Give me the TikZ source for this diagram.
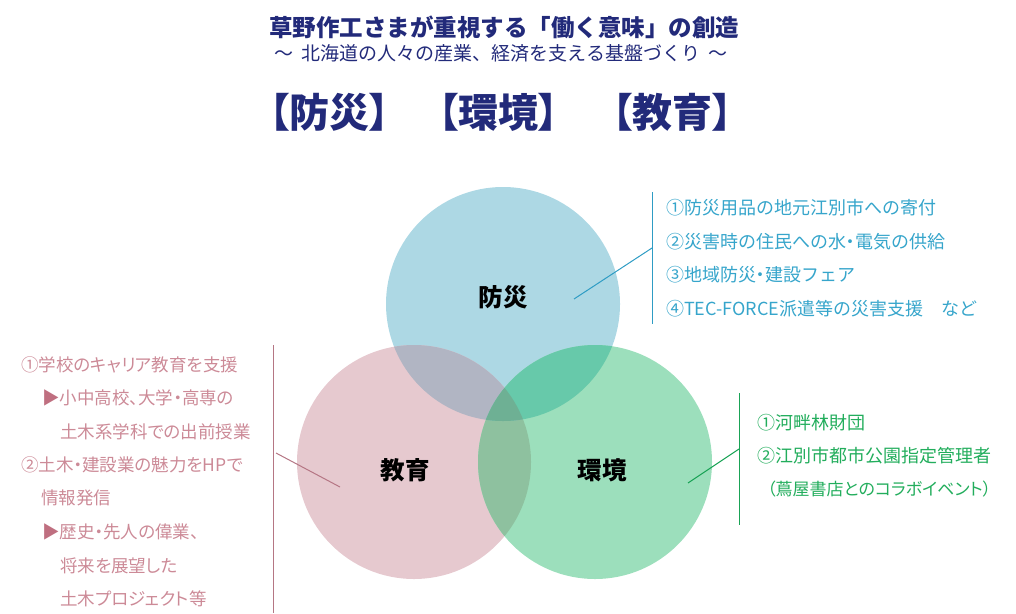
\documentclass[tikz,border=0pt]{standalone}
\usepackage{fontspec}
\setmainfont{Noto Sans CJK JP}
\newfontfamily\jp{Noto Sans CJK JP}
\newfontfamily\jpp{Noto Sans CJK JP}[RawFeature=+palt]
\definecolor{navy}{HTML}{222A7A}
\definecolor{cb}{HTML}{ADD8E4}
\definecolor{cp}{HTML}{E6C9CF}
\definecolor{cg}{HTML}{9CDFBC}
\definecolor{cbp}{HTML}{B1B5C3}
\definecolor{cbg}{HTML}{67C9AA}
\definecolor{cpg}{HTML}{8EC19F}
\definecolor{cbpg}{HTML}{6EB094}
\definecolor{tblue}{HTML}{36A5CB}
\definecolor{lblue}{HTML}{2E9CC4}
\definecolor{tpink}{HTML}{CC8A97}
\definecolor{lpink}{HTML}{B57684}
\definecolor{mpink}{HTML}{BF6F80}
\definecolor{tgreen}{HTML}{22AD5C}
\definecolor{lgreen}{HTML}{1AA356}
\tikzset{
  titletext/.style={text=navy, inner sep=0pt, font=\jp\bfseries\fontsize{23.5}{27}\selectfont},
  subtext/.style={text=navy, inner sep=0pt, font=\jp\fontsize{19}{21}\selectfont},
  bigtext/.style={text=navy, inner sep=0pt, font=\jpp\bfseries\fontsize{40}{44}\selectfont},
  circlabel/.style={text=black, inner sep=0pt, font=\jp\bfseries\fontsize{24.5}{28}\selectfont},
  bluetext/.style={text=tblue, anchor=west, inner sep=0pt, font=\jp\fontsize{18}{20}\selectfont},
  pinktext/.style={text=tpink, anchor=west, inner sep=0pt, font=\jpp\fontsize{17.5}{20}\selectfont},
  greentext/.style={text=tgreen, anchor=west, inner sep=0pt, font=\jp\fontsize{18}{20}\selectfont},
  blueline/.style={draw=lblue, line width=1pt},
  pinkline/.style={draw=lpink, line width=1pt},
  greenline/.style={draw=lgreen, line width=1pt},
}
\begin{document}
\begin{tikzpicture}[x=1pt,y=-1pt]
\useasboundingbox (0,0) rectangle (1016,613);
% circle centres
\coordinate (B) at (503,304);
\coordinate (P) at (414,462);
\coordinate (G) at (595,462);
\def\R{117}
\fill[cb] (B) circle (\R);
\fill[cp] (P) circle (\R);
\fill[cg] (G) circle (\R);
\begin{scope}
  \clip (P) circle (\R);
  \fill[cpg] (G) circle (\R);
\end{scope}
\begin{scope}
  \clip (B) circle (\R);
  \fill[cbp] (P) circle (\R);
  \fill[cbg] (G) circle (\R);
  \clip (P) circle (\R);
  \fill[cbpg] (G) circle (\R);
\end{scope}
% titles
\node[titletext] (title) at (504,27) {草野作工さまが重視する「働く意味」の創造};
\node[subtext] (sub) at (501,53) {〜\hspace{0.45em}北海道の人々の産業、経済を支える基盤づくり\hspace{0.45em}〜};
\node[bigtext] (k1) at (329,112) {【防災】};
\node[bigtext] (k2) at (498,112) {【環境】};
\node[bigtext] (k3) at (672,112) {【教育】};
% circle labels
\node[circlabel] (lb) at (503,297) {防災};
\node[circlabel] (lp) at (405,470) {教育};
\node[circlabel] (lg) at (602,470) {環境};
% blue callout
\coordinate (b1) at (574,299);
\coordinate (b2) at (652,248);
\coordinate (bt) at (652,192);
\coordinate (bb) at (652,324);
\draw[blueline] (bt) -- (bb);
\draw[blueline] (b1) -- (b2);
\node[bluetext] (bl1) at (666,208) {①防災用品の地元江別市への寄付};
\node[bluetext] (bl2) at (666,242) {②災害時の住民への水{\jpp ・}電気の供給};
\node[bluetext] (bl3) at (666,275) {③地域防災{\jpp ・}建設フェア};
\node[bluetext] (bl4) at (666,309) {④TEC-FORCE派遣等の災害支援　など};
% pink callout
\coordinate (p1) at (340,487);
\coordinate (p2) at (276,453);
\coordinate (pt) at (273,345);
\coordinate (pb) at (273,613);
\draw[pinkline] (pt) -- (pb);
\draw[pinkline] (p1) -- (p2);
\node[pinktext] (pl1) at (21,365) {①学校のキャリア教育を支援};
\node[pinktext] (pl2) at (42,398) {{\color{mpink}▶}小中高校、大学・高専の};
\node[pinktext] (pl3) at (60,432) {土木系学科での出前授業};
\node[pinktext] (pl4) at (21,465) {②土木・建設業の魅力をHPで};
\node[pinktext] (pl5) at (41,498) {情報発信};
\node[pinktext] (pl6) at (42,532) {{\color{mpink}▶}歴史・先人の偉業、};
\node[pinktext] (pl7) at (60,566) {将来を展望した};
\node[pinktext] (pl8) at (60,599) {土木プロジェクト等};
% green callout
\coordinate (g1) at (688,483);
\coordinate (g2) at (739,449);
\coordinate (gt) at (739,393);
\coordinate (gb) at (739,525);
\draw[greenline] (gt) -- (gb);
\draw[greenline] (g1) -- (g2);
\node[greentext] (gl1) at (757,423) {①河畔林財団};
\node[greentext] (gl2) at (757,456) {②江別市都市公園指定管理者};
\node[greentext, font=\jpp\fontsize{17}{20}\selectfont] (gl3) at (767,489) {（蔦屋書店とのコラボイベント）};
\end{tikzpicture}
\end{document}
